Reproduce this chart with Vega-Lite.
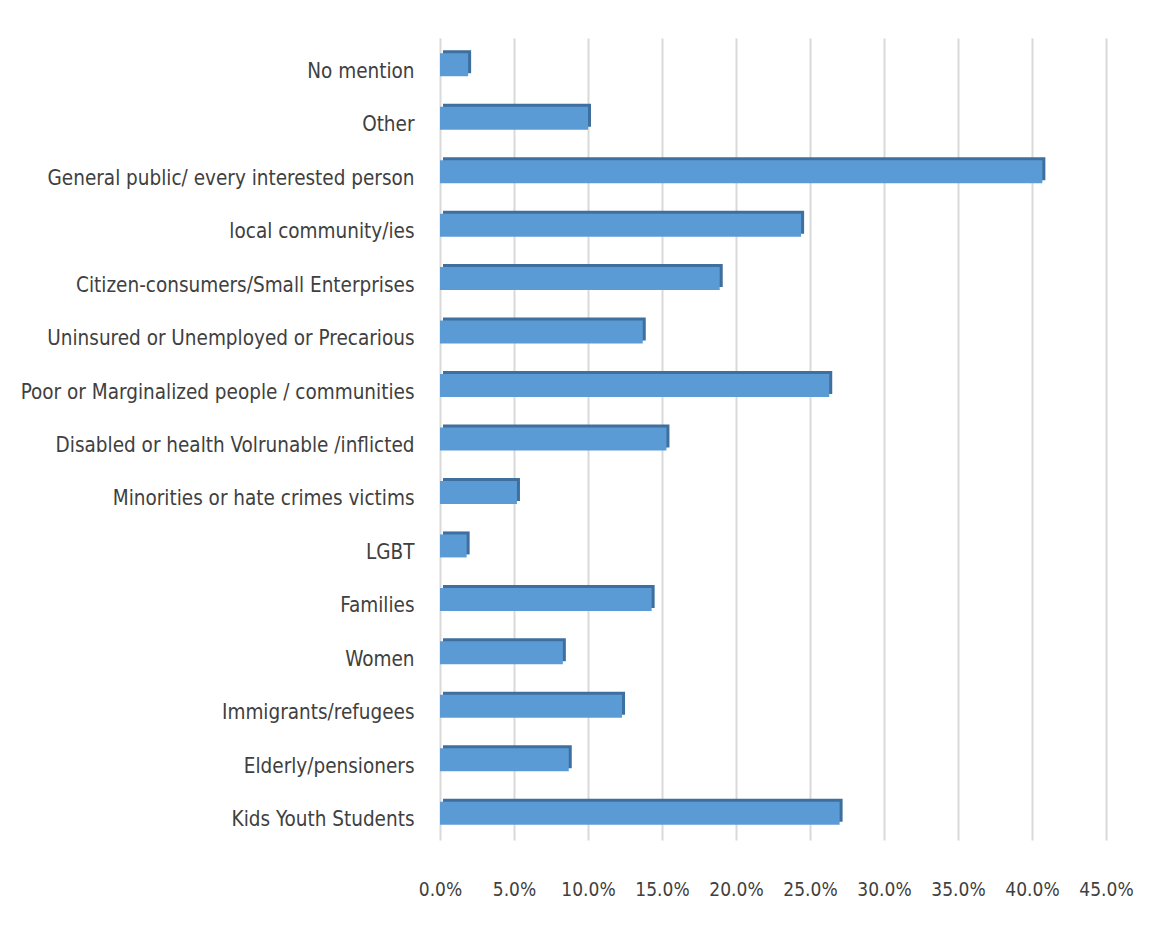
{
  "$schema": "https://vega.github.io/schema/vega-lite/v6.json",
  "width": 666,
  "height": 802,
  "autosize": {"type": "none"},
  "padding": {"left": 440, "top": 38, "right": 58, "bottom": 92},
  "background": "white",
  "config": {"view": {"stroke": null}},
  "data": {
    "values": [
      {"group": "No mention", "share": 0.019},
      {"group": "Other", "share": 0.100},
      {"group": "General public/ every interested person", "share": 0.407},
      {"group": "local community/ies", "share": 0.244},
      {"group": "Citizen-consumers/Small Enterprises", "share": 0.189},
      {"group": "Uninsured or Unemployed or Precarious", "share": 0.137},
      {"group": "Poor or Marginalized people / communities", "share": 0.263},
      {"group": "Disabled or health Volrunable /inflicted", "share": 0.153},
      {"group": "Minorities or hate crimes victims", "share": 0.052},
      {"group": "LGBT", "share": 0.018},
      {"group": "Families", "share": 0.143},
      {"group": "Women\u00a0", "share": 0.083},
      {"group": "Immigrants/refugees", "share": 0.123},
      {"group": "Elderly/pensioners\u00a0", "share": 0.087},
      {"group": "Kids Youth Students", "share": 0.270}
    ]
  },
  "encoding": {
    "y": {
      "field": "group",
      "type": "nominal",
      "sort": null,
      "title": null,
      "axis": {
        "domain": false,
        "ticks": false,
        "labelPadding": 26,
        "labelOffset": 7,
        "labelFont": "DejaVu Sans Condensed, Roboto Condensed, Roboto, sans-serif",
        "labelFontSize": 20.5,
        "labelColor": "#404040",
        "labelLimit": 500
      }
    },
    "x": {
      "field": "share",
      "type": "quantitative",
      "title": null,
      "scale": {"domain": [0, 0.45], "nice": false},
      "axis": {
        "values": [0, 0.05, 0.1, 0.15, 0.2, 0.25, 0.3, 0.35, 0.4, 0.45],
        "format": ".1%",
        "domain": false,
        "ticks": false,
        "grid": true,
        "gridColor": "#d9d9d9",
        "gridWidth": 2,
        "labelFlush": false,
        "labelOverlap": false,
        "labelPadding": 40,
        "labelFont": "DejaVu Sans Condensed, Roboto Condensed, Roboto, sans-serif",
        "labelFontSize": 19,
        "labelColor": "#404040"
      }
    }
  },
  "layer": [
    {"mark": {"type": "bar", "size": 23, "color": "#3e6f9e", "xOffset": 3, "yOffset": -3}},
    {"mark": {"type": "bar", "size": 23, "color": "#5b9bd5"}}
  ]
}
